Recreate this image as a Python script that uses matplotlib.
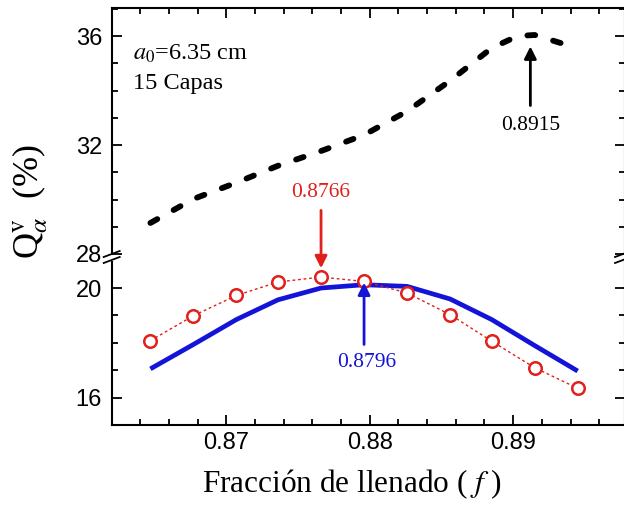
import matplotlib
matplotlib.use('Agg')
import matplotlib.pyplot as plt
from matplotlib.lines import Line2D
from matplotlib.ticker import MultipleLocator

# filling fraction sampled for the two lower curves
f_vals = [0.8647, 0.8677, 0.8707, 0.8736, 0.8766, 0.8796,
          0.8826, 0.8856, 0.8885, 0.8915, 0.8945]
q_red = [18.08, 18.99, 19.73, 20.22, 20.40, 20.24,
         19.82, 19.03, 18.06, 17.09, 16.34]
q_blue = [17.05, 17.94, 18.85, 19.57, 20.00, 20.12,
          20.06, 19.60, 18.85, 17.90, 16.97]

# upper (black dashed) curve
f_black = [0.8647, 0.8677, 0.8707, 0.8736, 0.8766, 0.8796,
           0.8826, 0.8856, 0.8885, 0.8903, 0.8915, 0.8945]
q_black = [29.14, 30.02, 30.62, 31.24, 31.78, 32.37,
           33.24, 34.36, 35.56, 36.00, 36.04, 35.55]

x_ticks = [0.87, 0.88, 0.89]
x_ticklabels = ['0.87', '0.88', '0.89']

plt.rcParams['font.family'] = ['Liberation Sans', 'DejaVu Sans']
plt.rcParams['mathtext.fontset'] = 'stix'

W, H = 624, 505
fig = plt.figure(figsize=(W / 100, H / 100), dpi=100)


def box(x0, y0, x1, y1):
    return [x0 / W, 1 - y1 / H, (x1 - x0) / W, (y1 - y0) / H]


ax_top = fig.add_axes(box(111.7, 8, 625, 254))
ax_bot = fig.add_axes(box(111.7, 262, 625, 425))

red = '#e0201c'
blue = '#1414d8'

ax_top.plot(f_black, q_black, color='black', linewidth=4.2,
            dashes=(1.35, 3.2), dash_capstyle='round')

ax_bot.plot(f_vals, q_blue, color=blue, linewidth=3.4, solid_capstyle='butt')
ax_bot.plot(f_vals, q_red, color=red, linewidth=1.0, linestyle=(0, (2, 2)),
            marker='o', markersize=9, markerfacecolor='white',
            markeredgecolor=red, markeredgewidth=1.8)

for ax in (ax_top, ax_bot):
    ax.set_xlim(0.862, 0.8978)
    ax.set_xticks(x_ticks)
    ax.xaxis.set_minor_locator(MultipleLocator(0.002))
    ax.yaxis.set_minor_locator(MultipleLocator(1))
    for sp in ax.spines.values():
        sp.set_linewidth(1.5)
    ax.tick_params(which='both', direction='in', right=True, width=1.3,
                   labelsize=17)
    ax.tick_params(which='major', length=7)
    ax.tick_params(which='minor', length=4)
    ax.tick_params(axis='y', pad=7)

ax_top.set_ylim(28, 37.03)
ax_top.set_yticks([28, 32, 36])
ax_top.spines['bottom'].set_visible(False)
ax_top.tick_params(which='both', bottom=False, labelbottom=False, top=True)

ax_bot.set_ylim(15.0, 20.95)
ax_bot.set_yticks([16, 20])
ax_bot.spines['top'].set_visible(False)
ax_bot.tick_params(which='both', top=False)
ax_bot.set_xticklabels(x_ticklabels)
ax_bot.tick_params(axis='x', pad=5)

# break marks on both vertical spines
for xs in (111.7, 623):
    for ys in (254, 260):
        fig.add_artist(Line2D([(xs - 8) / W, (xs + 8) / W],
                              [1 - (ys + 3) / H, 1 - (ys - 3) / H],
                              color='black', linewidth=1.3,
                              transform=fig.transFigure))

serif = ['Liberation Serif', 'DejaVu Serif']

ax_top.text(0.041, 0.789, r'$a_0$=6.35 cm', transform=ax_top.transAxes,
            fontsize=17.5, family=serif, va='baseline')
ax_top.text(0.041, 0.67, '15 Capas', transform=ax_top.transAxes,
            fontsize=17.5, family=serif, va='baseline')

# black arrow: maximum of upper curve
ax_top.annotate('', xy=(0.8912, 35.62), xytext=(0.8912, 33.45),
                arrowprops=dict(arrowstyle='-|>', color='black', lw=2,
                                mutation_scale=18, shrinkA=0, shrinkB=0))
ax_top.text(0.8912, 32.7, '0.8915', fontsize=15.5, family=serif,
            ha='center', va='center')

# red arrow: crosses the axis break
ax_bot.annotate('', xy=(0.8766, 20.72), xytext=(0.8766, 29.6),
                textcoords=ax_top.transData, annotation_clip=False,
                arrowprops=dict(arrowstyle='-|>', color=red, lw=2,
                                mutation_scale=18, shrinkA=0, shrinkB=0))
ax_top.text(0.8766, 30.24, '0.8766', fontsize=15.5, family=serif,
            color=red, ha='center', va='center')

# blue arrow
ax_bot.annotate('', xy=(0.8796, 20.2), xytext=(0.8796, 17.94),
                arrowprops=dict(arrowstyle='-|>', color=blue, lw=2,
                                mutation_scale=18, shrinkA=0, shrinkB=0))
ax_bot.text(0.8798, 17.28, '0.8796', fontsize=15.5, family=serif,
            color=blue, ha='center', va='center')

fig.text(352 / W, 1 - 492 / H, r'Fracción de llenado ( $f$ )',
         fontsize=22.5, family=serif, ha='center', va='baseline')
fig.text(30 / W, 1 - 202 / H, r'Q$^{\rm v}_{\alpha}$  (%)', rotation=90,
         fontsize=26, family=serif, ha='center', va='center')

fig.savefig('out.png', dpi=100)
